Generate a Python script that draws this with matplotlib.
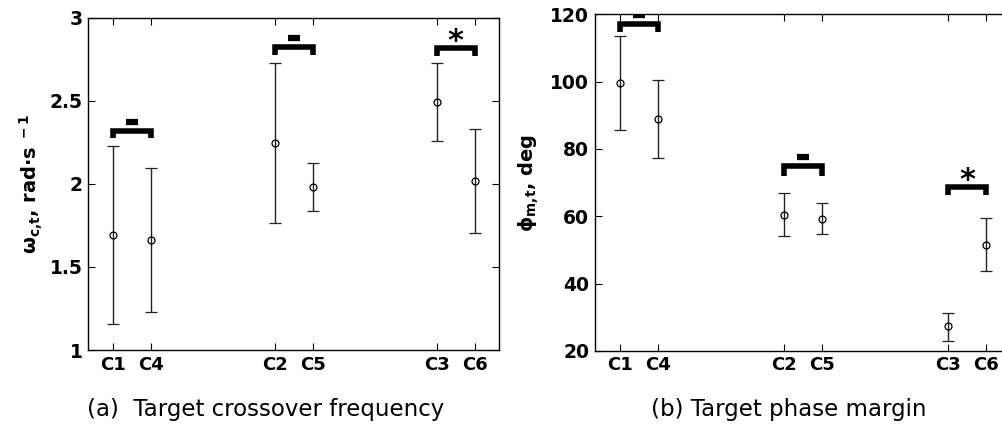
import numpy as np
import matplotlib
matplotlib.use('Agg')
from matplotlib import pyplot as plt

plt.rcParams['font.family'] = ['DejaVu Sans']
plt.rcParams['mathtext.fontset'] = 'custom'
plt.rcParams['mathtext.bf'] = 'DejaVu Sans:bold'
plt.rcParams['mathtext.rm'] = 'DejaVu Sans:bold'
plt.rcParams['mathtext.it'] = 'DejaVu Sans:bold'
plt.rcParams['mathtext.default'] = 'bf'

# 数据
labels = ['C1', 'C4', 'C2', 'C5', 'C3', 'C6']
pos = [1, 1.7, 4, 4.7, 7, 7.7]

wc_mean = [1.695, 1.661, 2.248, 1.982, 2.494, 2.018]
wc_low = [1.159, 1.229, 1.767, 1.837, 2.259, 1.705]
wc_high = [2.231, 2.095, 2.729, 2.129, 2.729, 2.330]

pm_mean = [99.7, 88.8, 60.4, 59.3, 27.3, 51.5]
pm_low = [85.7, 77.2, 54.1, 54.7, 23.0, 43.6]
pm_high = [113.6, 100.4, 66.9, 63.9, 31.4, 59.4]

# 显著性标记: (组索引, 括号高度, 腿长, 符号)
wc_sig = [(0, 2.32, 0.045, '–'), (1, 2.825, 0.05, '–'), (2, 2.82, 0.05, '*')]
pm_sig = [(0, 117.1, 2.4, '–'), (1, 74.8, 2.8, '–'), (2, 68.8, 2.4, '*')]


def draw_panel(ax, mean, low, high, sig, ylim, yticks, yticklabels, ylabel):
    mean = np.array(mean)
    err = [mean - np.array(low), np.array(high) - mean]
    ax.errorbar(pos, mean, yerr=err, fmt='o', mfc='none', mec='black', ms=5,
                mew=0.9, ecolor='#222222', elinewidth=1.0, capsize=4.5, capthick=1.0)
    yrange = ylim[1] - ylim[0]
    for g, h, leg, sym in sig:
        x0, x1 = pos[2 * g], pos[2 * g + 1]
        ax.plot([x0, x0, x1, x1], [h - leg, h, h, h - leg], color='black', lw=4,
                solid_joinstyle='miter', solid_capstyle='butt')
        if sym == '*':
            ax.text((x0 + x1) / 2, h - 0.006 * yrange, '*', ha='center', va='baseline',
                    fontsize=22, fontweight='bold')
        else:
            ax.plot([(x0 + x1) / 2 - 0.11, (x0 + x1) / 2 + 0.11],
                    [h + 0.027 * yrange] * 2, color='black', lw=4.5, solid_capstyle='butt')
    ax.set_xlim(0.54, 8.15)
    ax.set_ylim(*ylim)
    ax.set_xticks(pos)
    ax.set_xticklabels(labels, fontsize=13, fontweight='bold')
    ax.set_yticks(yticks)
    ax.set_yticklabels(yticklabels, fontsize=13.5, fontweight='bold')
    ax.tick_params(direction='in', top=True, right=True, length=5, width=0.8, pad=4)
    for s in ax.spines.values():
        s.set_linewidth(1.0)
    ax.set_ylabel(ylabel, fontsize=14, fontweight='bold')


fig = plt.figure(figsize=(10.03, 4.47), dpi=100)
ax1 = fig.add_axes([0.0877, 0.217, 0.4098, 0.743])
ax2 = fig.add_axes([0.593, 0.215, 0.415, 0.753])

draw_panel(ax1, wc_mean, wc_low, wc_high, wc_sig, (1, 3), [1, 1.5, 2, 2.5, 3],
           ['1', '1.5', '2', '2.5', '3'], r'ω$_{c{,}t}$, rad·s$^{\ -1}$')
draw_panel(ax2, pm_mean, pm_low, pm_high, pm_sig, (20, 120), [20, 40, 60, 80, 100, 120],
           ['20', '40', '60', '80', '100', '120'], r'ϕ$_{m{,}t}$, deg')
ax1.yaxis.set_label_coords(-0.105, 0.5)
ax2.yaxis.set_label_coords(-0.13, 0.5)

fig.text(0.265, 0.083, '(a)  Target crossover frequency', ha='center', va='center', fontsize=16.5)
fig.text(0.786, 0.083, '(b) Target phase margin', ha='center', va='center', fontsize=16.5)

plt.savefig('out.png', dpi=100)
